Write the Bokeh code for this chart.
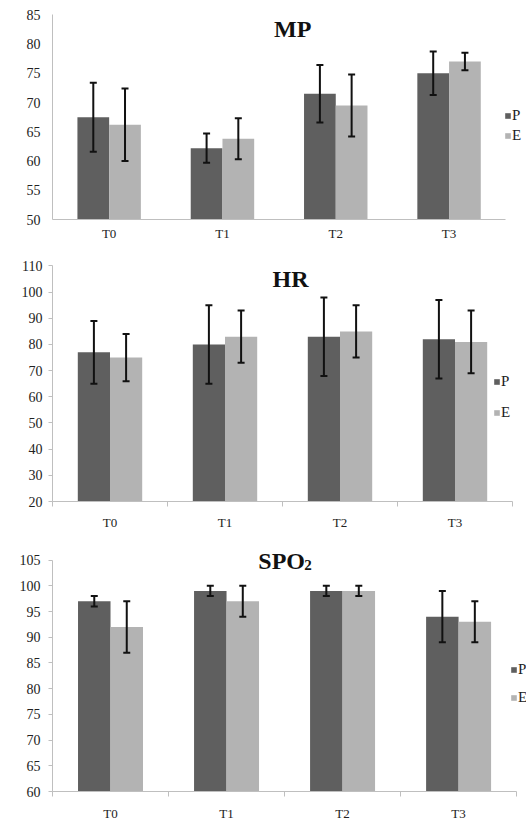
from bokeh.plotting import figure
from bokeh.models import (Range1d, LinearAxis, FixedTicker, Whisker,
                          ColumnDataSource, Legend, LegendItem, Label, TeeHead)
from bokeh.layouts import column
from bokeh.embed import file_html
from bokeh.resources import INLINE

categories = ["T0", "T1", "T2", "T3"]
series_names = ["P", "E"]

mp_p = [67.5, 62.2, 71.5, 75.0]
mp_p_sd = [5.9, 2.5, 4.9, 3.7]
mp_e = [66.2, 63.8, 69.5, 77.0]
mp_e_sd = [6.2, 3.5, 5.3, 1.5]
mp_yticks = [50, 55, 60, 65, 70, 75, 80, 85]

hr_p = [77, 80, 83, 82]
hr_p_sd = [12, 15, 15, 15]
hr_e = [75, 83, 85, 81]
hr_e_sd = [9, 10, 10, 12]
hr_yticks = [20, 30, 40, 50, 60, 70, 80, 90, 100, 110]

spo2_p = [97, 99, 99, 94]
spo2_p_sd = [1, 1, 1, 5]
spo2_e = [92, 97, 99, 93]
spo2_e_sd = [5, 3, 1, 4]
spo2_yticks = [60, 65, 70, 75, 80, 85, 90, 95, 100, 105]

DARK = "#5f5f5f"
LIGHT = "#b3b3b3"
AXIS = "#bfbfbf"
FONT = "Liberation Serif"
OFF = 0.14
BW = 0.28


def panel(pv, psd, ev, esd, yticks, height, borders, x_end, y_end, ticks_out,
          ystandoff, xstandoff, leg_loc, leg_spacing, titles):
    n = len(categories)
    centers = [i + 0.5 for i in range(n)]
    src = ColumnDataSource(dict(
        cat=categories,
        xp=[c - OFF for c in centers], xe=[c + OFF for c in centers],
        p=pv, e=ev,
        p_lo=[v - s for v, s in zip(pv, psd)], p_hi=[v + s for v, s in zip(pv, psd)],
        e_lo=[v - s for v, s in zip(ev, esd)], e_hi=[v + s for v, s in zip(ev, esd)],
    ))
    bl, br, bt, bb = borders
    p = figure(x_range=Range1d(0, x_end),
               y_range=Range1d(yticks[0], y_end),
               width=526, height=height, output_backend="svg",
               toolbar_location=None, x_axis_location=None, y_axis_location=None,
               min_border_left=bl, min_border_right=br, min_border_top=bt,
               min_border_bottom=bb)
    p.outline_line_color = None
    p.grid.visible = False

    xaxis = LinearAxis(
        bounds=(0, n),
        ticker=FixedTicker(ticks=centers, minor_ticks=[float(i) for i in range(n + 1)]),
        major_label_overrides={c: lab for c, lab in zip(centers, categories)},
        axis_line_color=AXIS, major_tick_in=0, major_tick_out=0,
        minor_tick_in=0, minor_tick_out=(5 if ticks_out else 0),
        minor_tick_line_color=AXIS,
        major_label_standoff=xstandoff,
        major_label_text_font=FONT, major_label_text_font_size="13px",
        major_label_text_color="#222222")
    p.add_layout(xaxis, "below")

    yaxis = LinearAxis(
        bounds=(yticks[0], yticks[-1]),
        ticker=FixedTicker(ticks=yticks, minor_ticks=[]),
        axis_line_color=AXIS, major_tick_in=0,
        major_tick_out=(4 if ticks_out else 0),
        major_tick_line_color=AXIS, minor_tick_in=0, minor_tick_out=0,
        major_label_standoff=ystandoff,
        major_label_text_font=FONT, major_label_text_font_size="14px",
        major_label_text_color="#222222")
    p.add_layout(yaxis, "left")

    rp = p.vbar(x="xp", top="p", bottom=yticks[0], width=BW,
                source=src, fill_color=DARK, line_color=None)
    re_ = p.vbar(x="xe", top="e", bottom=yticks[0], width=BW,
                 source=src, fill_color=LIGHT, line_color=None)

    for base, lo, hi in (("xp", "p_lo", "p_hi"), ("xe", "e_lo", "e_hi")):
        w = Whisker(base=base, lower=lo, upper=hi, level="overlay",
                    source=src, dimension="height", line_color="#111111", line_width=2,
                    upper_head=TeeHead(size=7, line_width=2, line_color="#111111"),
                    lower_head=TeeHead(size=7, line_width=2, line_color="#111111"))
        p.add_layout(w)

    legend = Legend(items=[LegendItem(label=series_names[0], renderers=[rp]),
                           LegendItem(label=series_names[1], renderers=[re_])],
                    location=leg_loc, glyph_width=7, glyph_height=7,
                    label_height=18, label_width=10, spacing=leg_spacing,
                    padding=0, margin=0, label_standoff=1,
                    border_line_color=None, background_fill_alpha=0,
                    label_text_font=FONT, label_text_font_size="15px",
                    label_text_color="#222222")
    p.add_layout(legend)

    for (tx, ty, txt, size, align) in titles:
        p.add_layout(Label(x=tx, y=ty, text=txt,
                           text_font=FONT, text_font_style="bold",
                           text_font_size=size, text_align=align,
                           text_baseline="alphabetic", text_color="#111111"))
    return p


p1 = panel(mp_p, mp_p_sd, mp_e, mp_e_sd, mp_yticks, 256, (47, 0, 0, 37),
           4.1834, 87.44, False, 12, 6, (452, 75), 2,
           [(2.12, 82.6, "MP", "24px", "center")])
p2 = panel(hr_p, hr_p_sd, hr_e, hr_e_sd, hr_yticks, 282, (52, 0, 0, 37),
           4.1217, 113.63, True, 6, 8, (441, 80), 13,
           [(2.07, 105.2, "HR", "24px", "center")])
p3 = panel(spo2_p, spo2_p_sd, spo2_e, spo2_e_sd, spo2_yticks, 285, (47, 0, 0, 27),
           4.0853, 109.2, True, 8, 9, (458, 85), 10,
           [(1.774, 104.8, "SPO", "24px", "left"),
            (2.17, 104.05, "2", "15px", "left")])

layout = column(p1, p2, p3, spacing=0)
open("out.html", "w").write(file_html(layout, INLINE))
